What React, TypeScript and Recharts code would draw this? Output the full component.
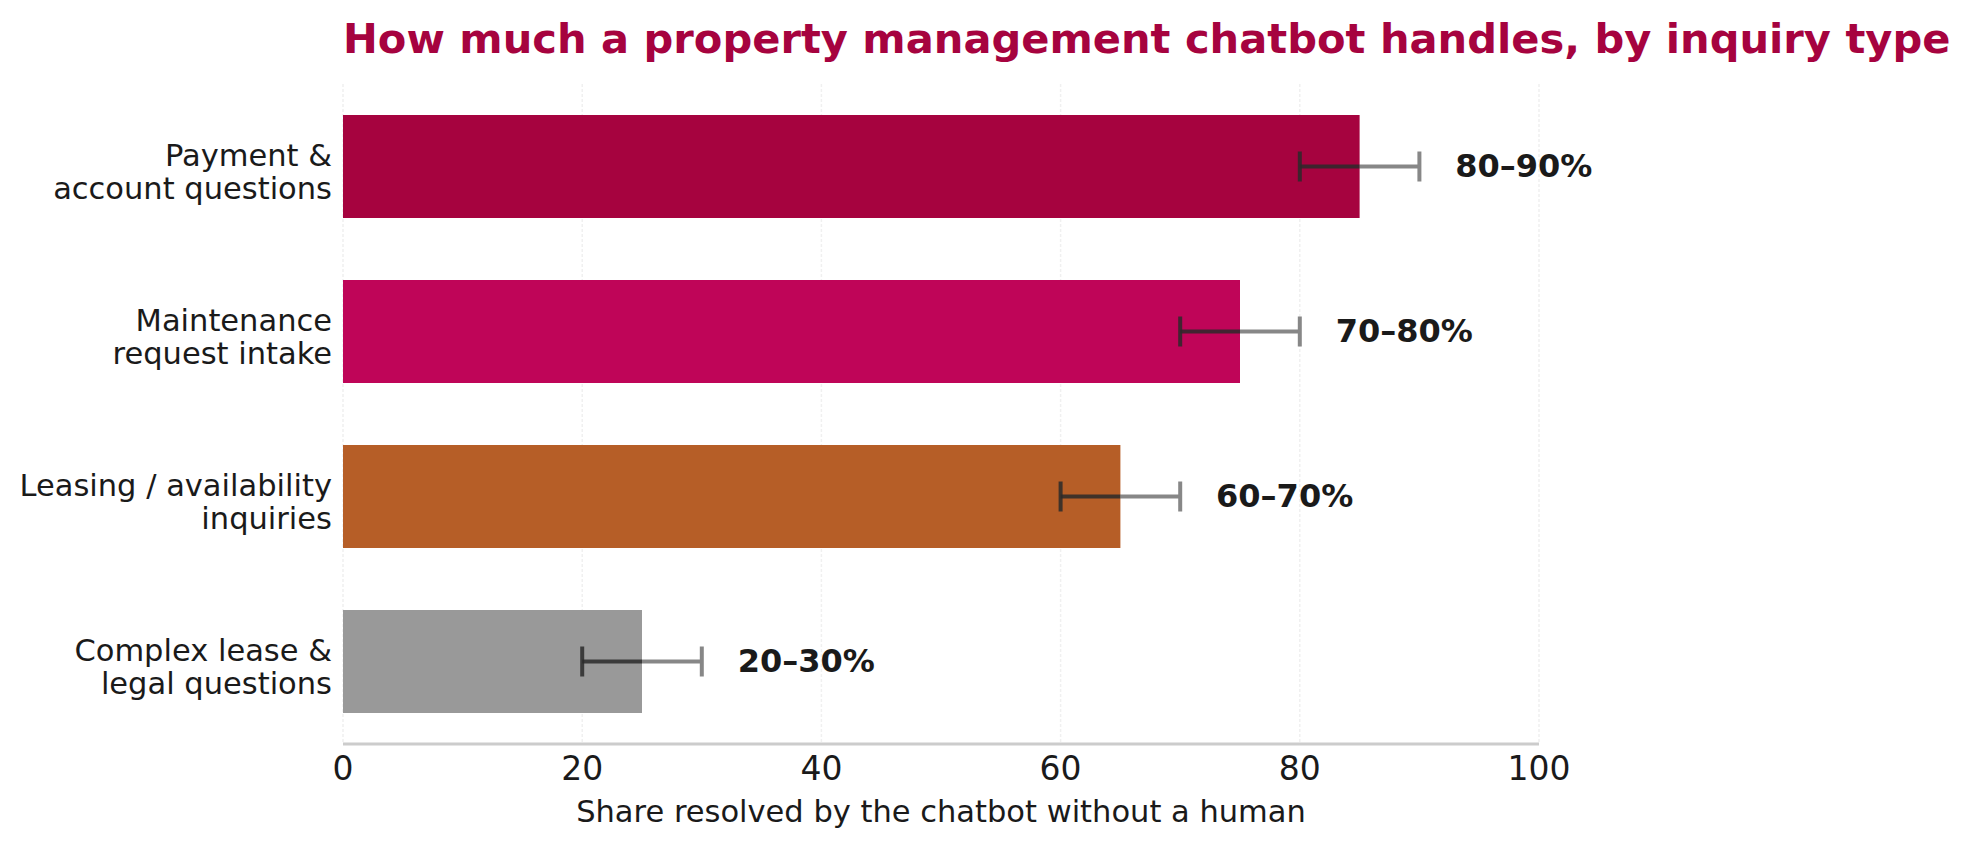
import React from "react"
import { BarChart, Bar, XAxis, YAxis, CartesianGrid } from "recharts"

// inquiry types, top to bottom
const categories = [
  "Payment &\naccount questions",
  "Maintenance\nrequest intake",
  "Leasing / availability\ninquiries",
  "Complex lease &\nlegal questions",
]
const midValues = [85, 75, 65, 25]
const lowValues = [80, 70, 60, 20]
const highValues = [90, 80, 70, 30]
const rangeLabels = ["80–90%", "70–80%", "60–70%", "20–30%"]
const barColors = ["#A6033F", "#BF0558", "#B65E27", "#999999"]
const xTicks = [0, 20, 40, 60, 80, 100]

const FONT = "DejaVu Sans"
const TEXT = "#1a1a1a"

const data = categories.map((name, i) => ({
  name,
  mid: midValues[i],
  low: lowValues[i],
  high: highValues[i],
  label: rangeLabels[i],
  color: barColors[i],
}))

const CategoryTick = (props: any) => {
  const { x, y, payload } = props
  const lines = String(payload.value).split("\n")
  const lh = 33.5
  const first = y - 1 - (lines.length - 1) * lh / 2 + lh / 2
  return (
    <text x={x} y={y} textAnchor="end" fontSize={30.5} fill={TEXT} fontFamily={FONT}>
      {lines.map((l, i) => (
        <tspan key={i} x={x} y={first + i * lh}>{l}</tspan>
      ))}
    </text>
  )
}

// bar + error range + range label, all placed from the bar's own geometry
const BarWithRange = (props: any) => {
  const { x, y, width, height, payload } = props
  const unit = width / payload.mid
  const cy = y + height / 2
  const xLow = x + unit * payload.low
  const xHigh = x + unit * payload.high
  const insideEnd = Math.min(x + width, xHigh)
  const cap = 15
  return (
    <g>
      <rect x={x} y={y} width={width} height={height} fill={payload.color} />
      <line x1={insideEnd} x2={xHigh} y1={cy} y2={cy} stroke="#878787" strokeWidth={4} />
      <line x1={xHigh} x2={xHigh} y1={cy - cap} y2={cy + cap} stroke="#878787" strokeWidth={4} />
      <line x1={xLow} x2={insideEnd} y1={cy} y2={cy} stroke="#2a2a2a" strokeOpacity={0.85} strokeWidth={4} />
      <line x1={xLow} x2={xLow} y1={cy - cap} y2={cy + cap} stroke="#2a2a2a" strokeOpacity={0.85} strokeWidth={4} />
      <text x={x + unit * (payload.high + 3)} y={cy + 10} fontSize={32} fontWeight="bold" fill={TEXT} fontFamily={FONT}>
        {payload.label}
      </text>
    </g>
  )
}

export default function App() {
  return (
    <div style={{ position: "relative", width: 1971, height: 847, background: "#fff" }}>
      <style>{`body{margin:0}`}</style>
      <BarChart
        width={1971}
        height={847}
        data={data}
        layout="vertical"
        margin={{ top: 84, right: 432, bottom: 0, left: 0 }}
      >
        <CartesianGrid horizontal={false} stroke="#f0f0f0" strokeWidth={1.5} strokeDasharray="3 2" />
        <XAxis
          type="number"
          domain={[0, 100]}
          ticks={xTicks}
          height={103}
          tickLine={false}
          tickSize={0}
          tickMargin={13}
          axisLine={{ stroke: "#cccccc", strokeWidth: 3 }}
          tick={{ fontSize: 33, fill: TEXT, fontFamily: FONT }}
        />
        <YAxis
          type="category"
          dataKey="name"
          width={343}
          tickLine={false}
          axisLine={false}
          tickSize={0}
          tickMargin={11}
          tick={<CategoryTick />}
        />
        <Bar dataKey="mid" barSize={103} shape={<BarWithRange />} isAnimationActive={false} />
      </BarChart>
      <svg width={1971} height={847} style={{ position: "absolute", left: 0, top: 0, pointerEvents: "none" }}>
        <text x={343} y={53} fontSize={41.6} fontWeight="bold" fill="#A6033F" fontFamily={FONT}>
          How much a property management chatbot handles, by inquiry type
        </text>
        <text x={941} y={822} fontSize={30.5} textAnchor="middle" fill={TEXT} fontFamily={FONT}>
          Share resolved by the chatbot without a human
        </text>
      </svg>
    </div>
  )
}
